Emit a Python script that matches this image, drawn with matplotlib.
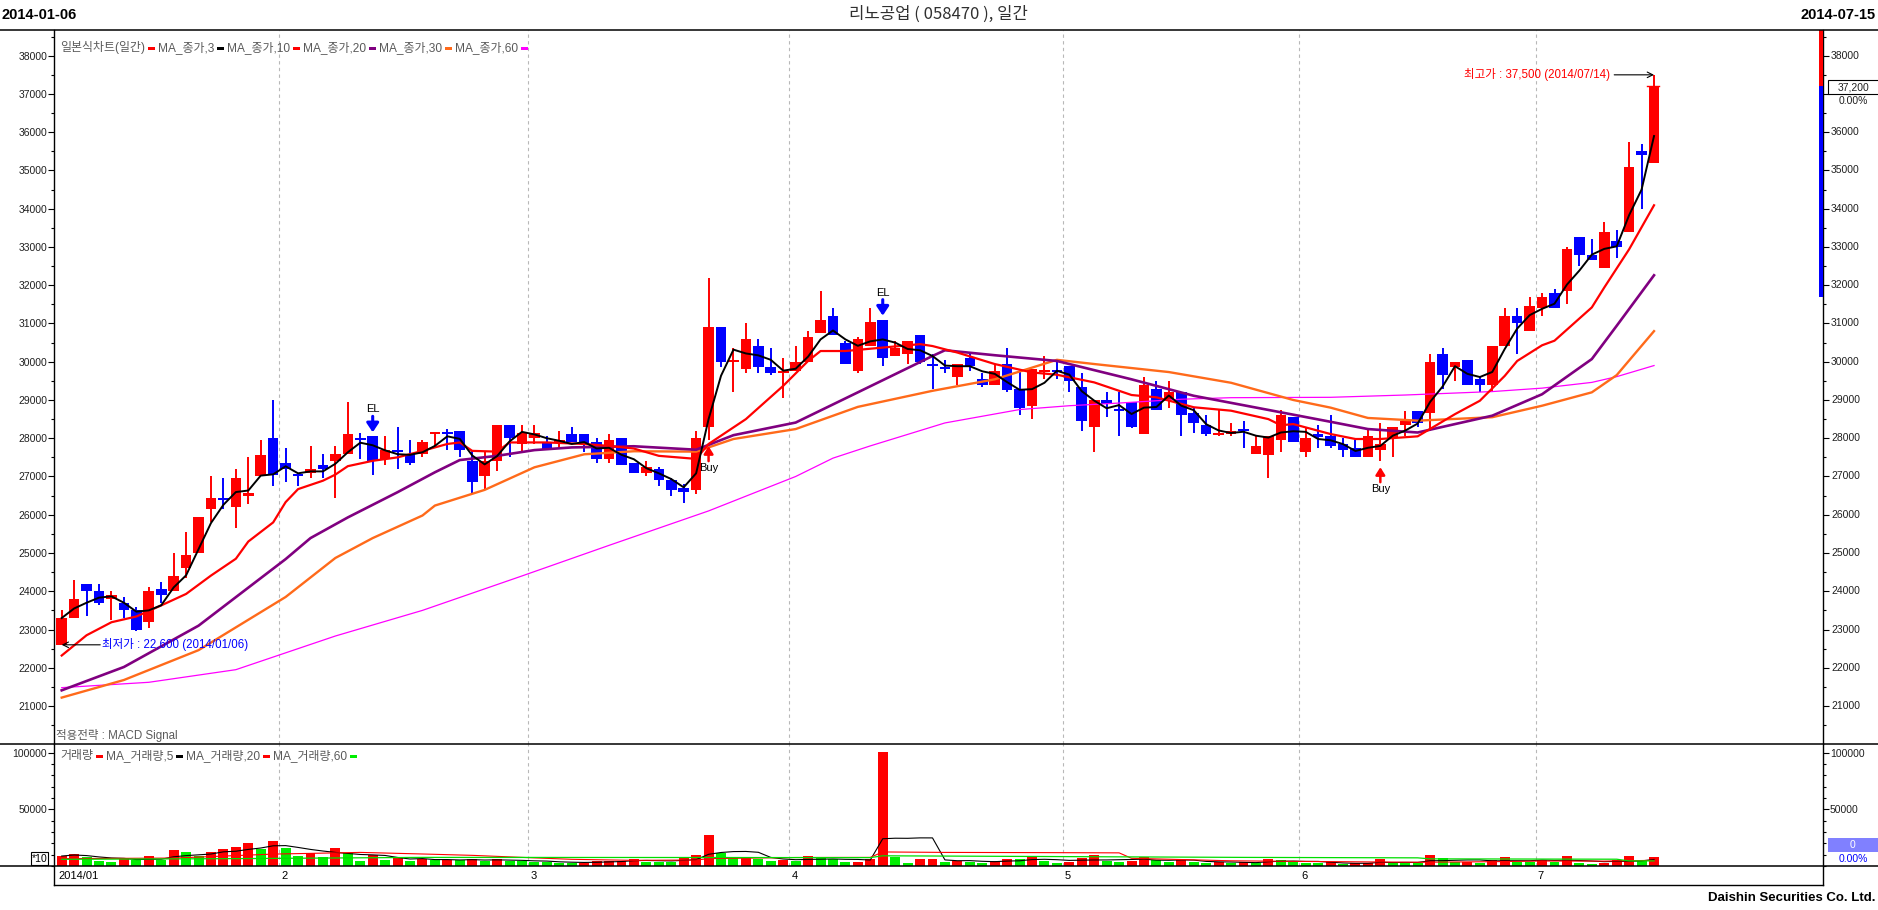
import matplotlib
matplotlib.use('Agg')
import matplotlib.pyplot as plt
import matplotlib.transforms as mtransforms
from matplotlib.lines import Line2D
from matplotlib.patches import Rectangle
from matplotlib.ticker import MultipleLocator, FixedLocator
import numpy as np
import pandas as pd

plt.rcParams['font.family'] = ['Liberation Sans', 'Noto Sans CJK KR', 'DejaVu Sans']

W, H = 1878, 910

# ---- daily candles, 2014-01-06 .. 2014-07-14 ----
opens = [22600, 23300, 24200, 24000, 23800, 23700, 23500, 23200, 24050, 24000,
         24600, 25000, 26150, 26400, 26200, 26500, 27000, 28000, 27350, 27050,
         27100, 27300, 27400, 27600, 28000, 28050, 27450, 27700, 27600, 27600,
         28100, 28150, 28200, 27400, 27000, 27400, 28350, 27850, 28000, 27900,
         27900, 28100, 28100, 27900, 27450, 28000, 27350, 27100, 27200, 26900,
         26700, 26650, 28300, 30900, 30000, 29800, 30400, 29850, 29700, 29750,
         30000, 30750, 31200, 30500, 29750, 30400, 31100, 30150, 30200, 30700,
         29950, 29850, 29600, 30100, 29550, 29400, 29950, 29300, 28850, 29720,
         29790, 29900, 29350, 28300, 29000, 28760, 28950, 28100, 29300, 29000,
         29200, 28650, 28350, 28080, 28100, 28250, 27600, 27550, 27950, 28550,
         27650, 28100, 28050, 27850, 27750, 27500, 27700, 28000, 28350, 28700,
         28650, 30200, 29850, 30050, 29550, 29400, 30400, 31200, 30800, 31400,
         31800, 31850, 33250, 32800, 32450, 33150, 33400, 35500, 35200]
highs = [23500, 24300, 24200, 24200, 24000, 23850, 23600, 24100, 24250, 25000,
         25550, 25950, 27000, 26950, 27200, 27500, 27950, 29000, 27750, 27100,
         27800, 27600, 27800, 28950, 28150, 28050, 28050, 28300, 27950, 27950,
         28150, 28250, 28200, 27700, 27650, 28350, 28350, 28350, 28350, 28050,
         28200, 28300, 28100, 28000, 28100, 28000, 27350, 27400, 27250, 26950,
         26800, 28200, 32200, 30900, 30350, 31000, 30600, 30350, 30100, 30400,
         30800, 31850, 31400, 30550, 30650, 31400, 31100, 30550, 30550, 30700,
         30200, 30050, 29950, 30200, 29700, 29950, 30350, 29750, 29800, 30150,
         30050, 29900, 29700, 29000, 29200, 29200, 28950, 29600, 29500, 29500,
         29200, 28800, 28600, 28750, 28400, 28450, 28050, 28050, 28750, 28550,
         28300, 28350, 28600, 28000, 27950, 28250, 28400, 28300, 28700, 28700,
         30200, 30350, 30000, 30050, 29600, 30400, 31400, 31400, 31700, 31800,
         31900, 33000, 33250, 33200, 33650, 33450, 35750, 35700, 37500]
lows = [22600, 23300, 23350, 23650, 23250, 23300, 22950, 23050, 23700, 24000,
        24350, 25000, 25800, 26150, 25650, 26280, 27000, 26750, 26850, 26750,
        26950, 26950, 26450, 27600, 27450, 27050, 27300, 27200, 27300, 27500,
        27800, 27700, 27500, 26550, 26650, 27150, 27500, 27650, 27850, 27700,
        27750, 27900, 27650, 27350, 27350, 27300, 27100, 27000, 26750, 26500,
        26300, 26550, 27950, 29850, 29200, 29700, 29700, 29650, 29050, 29750,
        30000, 30750, 30700, 29950, 29700, 30400, 29900, 30150, 29950, 29950,
        29300, 29700, 29400, 29750, 29350, 29400, 29200, 28600, 28500, 29550,
        29550, 29200, 28200, 27650, 28550, 28050, 28280, 28100, 28750, 28800,
        28050, 28150, 28050, 28050, 28050, 27750, 27600, 26950, 27650, 27900,
        27500, 27750, 27750, 27500, 27500, 27500, 27400, 27500, 28050, 28300,
        28200, 29300, 29500, 29400, 29200, 29200, 30400, 30200, 30800, 31200,
        31400, 31500, 32500, 32650, 32450, 32700, 33400, 34000, 35200]
closes = [23300, 23800, 24000, 23700, 23900, 23500, 23000, 24000, 23900, 24400,
          24950, 25950, 26450, 26380, 26950, 26570, 27550, 27050, 27200, 27000,
          27200, 27200, 27600, 28100, 27950, 27400, 27700, 27650, 27350, 27900,
          28150, 28100, 27700, 26850, 27400, 28350, 28000, 28150, 28150, 27700,
          27950, 27900, 27850, 27450, 27950, 27300, 27100, 27250, 26900, 26650,
          26600, 28000, 30900, 30000, 30050, 30600, 29850, 29700, 29750, 30000,
          30650, 31100, 30700, 29950, 30600, 31050, 30100, 30350, 30550, 30000,
          29900, 29800, 29950, 29900, 29400, 29750, 29250, 28800, 29800, 29750,
          29740, 29500, 28450, 29000, 28900, 28700, 28300, 29400, 28750, 29200,
          28600, 28400, 28100, 28110, 28200, 28200, 27800, 28050, 28600, 27900,
          28000, 28040, 27800, 27700, 27500, 28050, 27850, 28300, 28450, 28400,
          30000, 29650, 30000, 29400, 29400, 30400, 31200, 31000, 31450, 31700,
          31400, 32950, 32800, 32650, 33400, 33000, 35100, 35400, 37200]
volumes = [8800, 10600, 8200, 4400, 3500, 7100, 5300, 8800, 5300, 14100,
           12300, 8800, 12300, 15000, 16800, 20300, 15000, 22000, 15900, 8800,
           11500, 7900, 15900, 11200, 4400, 9700, 5300, 7100, 4400, 6200,
           5300, 5400, 5300, 5900, 4400, 6200, 4300, 4100, 3800, 3300,
           3000, 2600, 3000, 4600, 4700, 4800, 6500, 3800, 3700, 3600,
           7300, 9600, 27400, 11700, 7600, 7900, 5900, 4700, 4900, 4400,
           8800, 7200, 5800, 3300, 3900, 6200, 101000, 8200, 2900, 5800,
           6100, 3900, 4600, 3300, 2900, 4400, 6600, 5800, 8600, 4200,
           2700, 3500, 6800, 9400, 4300, 3700, 4600, 8200, 5100, 3600,
           5300, 3700, 2600, 3100, 3000, 3800, 2350, 6470, 5290, 3820,
           2350, 2300, 3230, 1760, 2350, 2450, 6470, 2350, 2300, 2250,
           9700, 7060, 3820, 3900, 2350, 5290, 7940, 3820, 3800, 5290,
           3820, 8820, 2350, 1760, 2350, 5290, 8820, 4410, 7940]

month_labels = ['2014/01', '2', '3', '4', '5', '6', '7']
month_starts = [0, 18, 38, 59, 81, 100, 119]

# moving averages (candle number, value)
ma10_at = [1, 3, 5, 7, 9, 11, 13, 15, 16, 18, 19, 20, 22, 23, 24, 26, 28, 30, 32, 33,
           34, 36, 37, 40, 43, 45, 47, 49, 52, 53, 56, 59, 61, 62, 64, 66, 68, 70, 71, 73,
           76, 79, 81, 84, 87, 89, 92, 95, 98, 99, 100, 103, 105, 107, 110, 113, 115, 117, 118, 120,
           121, 124, 125, 127, 129]
ma10_val = [22320, 22850, 23190, 23340, 23630, 23930, 24410, 24850, 25300, 25800, 26330, 26670, 26890, 27050, 27270, 27410, 27500, 27670, 27850, 27890,
            27670, 27650, 27890, 27890, 27850, 27800, 27730, 27540, 27460, 27850, 28500, 29370, 30020, 30280, 30280, 30340, 30400, 30460, 30410, 30240,
            29940, 29720, 29660, 29460, 29130, 29070, 28810, 28720, 28500, 28340, 28370, 28110, 27980, 27980, 28050, 28630, 28980, 29630, 30020, 30430,
            30550, 31420, 31940, 32940, 34090]
ma20_at = [1, 6, 12, 19, 21, 24, 28, 31, 33, 36, 39, 42, 47, 52, 55, 60, 65, 71, 72, 76,
           81, 87, 92, 98, 103, 106, 110, 116, 120, 124, 126, 129]
ma20_val = [21410, 22020, 23100, 24840, 25390, 25930, 26590, 27110, 27430, 27540, 27690, 27760, 27790, 27700, 28080, 28410, 29200, 30150, 30300, 30170,
            30020, 29540, 29110, 28740, 28430, 28240, 28150, 28590, 29150, 30070, 30940, 32260]
ma30_at = [1, 6, 12, 19, 23, 26, 30, 31, 35, 39, 43, 47, 52, 55, 60, 65, 71, 76, 81, 84,
           90, 95, 100, 103, 106, 110, 116, 120, 124, 126, 129]
ma30_val = [21220, 21680, 22460, 23850, 24870, 25390, 25980, 26240, 26650, 27240, 27580, 27660, 27650, 27980, 28240, 28820, 29240, 29540, 30050, 29940,
            29730, 29450, 29000, 28800, 28530, 28460, 28550, 28850, 29200, 29650, 30800]
ma60_at = [1, 8, 15, 23, 30, 38, 45, 53, 60, 63, 66, 72, 78, 82, 86, 91, 95, 103, 109, 116,
           120, 124, 126, 129]
ma60_val = [21480, 21620, 21950, 22830, 23500, 24400, 25200, 26100, 27000, 27480, 27800, 28400, 28750, 28850, 28920, 29020, 29060, 29070, 29130, 29220,
            29310, 29460, 29610, 29900]

vma20_at = [1, 10, 18, 25, 30, 34, 38, 42, 47, 52, 53, 60, 66, 67, 72, 80, 86, 87, 95, 100,
            110, 116, 120, 125, 129]
vma20_val = [6500, 7000, 10500, 12000, 10600, 9400, 7600, 5900, 5000, 5300, 6500, 7500, 7600, 12400, 12000, 11800, 11600, 6800, 4600, 4100,
             3300, 3800, 4400, 4300, 5000]
vma60_at = [1, 15, 30, 52, 66, 67, 96, 110, 111, 126, 127, 129]
vma60_val = [5900, 6500, 7600, 7500, 7400, 9000, 7600, 7200, 6300, 6000, 4500, 4500]

RED, BLUE, GREEN = '#ff0000', '#0000ff', '#00ee00'
GRAY_TXT = '#5a5a5a'
TICK_TXT = '#202020'

x = np.arange(len(closes))
o = np.array(opens); c = np.array(closes); hi = np.array(highs); lo = np.array(lows)
ma3 = pd.Series(closes).rolling(3, min_periods=1).mean()
vol = np.array(volumes)
vma5 = pd.Series(volumes).rolling(5, min_periods=1).mean()

fig = plt.figure(figsize=(W / 100, H / 100), dpi=100)
fig.patch.set_facecolor('white')

def fx(px):
    return px / W

def fy(py):
    return 1 - py / H

L_PX, R_PX = 54, 1823
X0, DX = 61.7, 12.44
xlim = ((L_PX - X0) / DX, (R_PX - X0) / DX)
PY_TOP, PY_BOT = 30, 744
ylim = (20007, 38672)
px_per_won = (PY_BOT - PY_TOP) / (ylim[1] - ylim[0])

ax = fig.add_axes([fx(L_PX), fy(PY_BOT), (R_PX - L_PX) / W, (PY_BOT - PY_TOP) / H])
axv = fig.add_axes([fx(L_PX), fy(866), (R_PX - L_PX) / W, (866 - 744) / H])
axs = fig.add_axes([fx(L_PX), fy(885), (R_PX - L_PX) / W, (885 - 866) / H])

for a in (ax, axv, axs):
    a.set_xlim(*xlim)
    a.set_facecolor('white')
    for s in a.spines.values():
        s.set_linewidth(1.0)
    a.spines['top'].set_visible(False)
    a.tick_params(axis='x', bottom=False, labelbottom=False)
for a in (ax, axv):
    a.spines['bottom'].set_visible(False)

ax.set_ylim(*ylim)
axv.set_ylim(0, 107680)
axs.set_yticks([])

# month separators
for s in month_starts[1:]:
    for a in (ax, axv):
        a.axvline(s - 0.5, color='#b8b8b8', lw=0.8, ls=(0, (3, 3)), zorder=0)

# candles
up = c >= o
ccol = np.where(up, RED, BLUE)
ax.vlines(x, lo, hi, colors=ccol, lw=1.4, zorder=2)
body_lo = np.minimum(o, c)
body_h = np.maximum(np.abs(c - o), 2 / px_per_won)
ax.bar(x, body_h, bottom=body_lo, width=0.85, color=ccol, linewidth=0, zorder=2)

# moving averages
ax.plot(np.array(ma60_at) - 1, ma60_val, color='#ff00ff', lw=0.9, zorder=3)
ax.plot(np.array(ma30_at) - 1, ma30_val, color='#ff6a1a', lw=1.7, zorder=3)
ax.plot(np.array(ma20_at) - 1, ma20_val, color='#800080', lw=1.9, zorder=3)
ax.plot(np.array(ma10_at) - 1, ma10_val, color=RED, lw=1.6, zorder=3)
ax.plot(x, ma3, color='black', lw=1.4, zorder=3)

# price ticks: left labels by matplotlib, right labels written by hand
# (the 37000 label on the right sits under the current-price box)
ax.yaxis.set_major_locator(MultipleLocator(1000))
ax.yaxis.set_minor_locator(MultipleLocator(500))
ax.tick_params(axis='y', which='both', left=True, right=True, labelleft=True, labelright=False,
               direction='out', width=0.8, labelsize=7.5, labelcolor=TICK_TXT, pad=1)
ax.tick_params(axis='y', which='major', length=4)
ax.tick_params(axis='y', which='minor', length=2.5)
bt = mtransforms.blended_transform_factory(ax.transAxes, ax.transData)
right_off = 8 / (R_PX - L_PX)
for v in range(21000, 39000, 1000):
    if v == 37000:
        continue
    ax.text(1 + right_off, v, str(v), transform=bt, fontsize=7.5, color=TICK_TXT,
            ha='left', va='center', clip_on=False)

# volume bars
vcol = [RED] + [RED if vol[i] > vol[i - 1] else GREEN for i in range(1, len(vol))]
axv.bar(x, vol, width=0.8, color=vcol, linewidth=0, zorder=2)
axv.plot(x, vma5, color='black', lw=0.8, zorder=3)
axv.plot(np.array(vma20_at) - 1, vma20_val, color=RED, lw=0.8, zorder=3)
axv.plot(np.array(vma60_at) - 1, vma60_val, color='#00dd00', lw=0.9, zorder=3)
axv.yaxis.set_major_locator(FixedLocator([50000, 100000]))
axv.yaxis.set_minor_locator(MultipleLocator(10000))
axv.tick_params(axis='y', which='both', left=True, right=True, labelleft=True, labelright=True,
                direction='out', width=0.8, labelsize=7.5, labelcolor=TICK_TXT, pad=1)
axv.tick_params(axis='y', which='major', length=4)
axv.tick_params(axis='y', which='minor', length=2.5)

# month labels under volume panel
strip_t = mtransforms.blended_transform_factory(axs.transData, axs.transAxes)
for s, lab in zip(month_starts, month_labels):
    axs.text(s - 0.5 + (0.15 if s else 0.25), 0.45, lab, fontsize=8, color='black',
             ha='left', va='center', transform=strip_t)

# full-width rules
for yy in (30, 744, 866):
    fig.add_artist(Line2D([0, 1], [fy(yy), fy(yy)], transform=fig.transFigure, color='black', lw=1.1))

# header / footer
narrow = ['Liberation Sans Narrow', 'Liberation Sans', 'DejaVu Sans']
fig.text(fx(2), fy(15), '2014-01-06', fontsize=10.5, fontweight='bold', family=narrow, va='center', ha='left')
fig.text(fx(1876), fy(15), '2014-07-15', fontsize=10.5, fontweight='bold', family=narrow, va='center', ha='right')
fig.text(fx(938), fy(14), '리노공업 ( 058470 ), 일간', fontsize=12, color='#303030',
         family=['Noto Sans CJK KR', 'DejaVu Sans'], va='center', ha='center')
fig.text(fx(1876), fy(898), 'Daishin Securities Co. Ltd.', fontsize=9.5, fontweight='bold', family=narrow,
         va='center', ha='right')

# legend rows
renderer = fig.canvas.get_renderer()

def legend_row(y_px, items, x0=60):
    xx = x0
    for label, col in items:
        t = fig.text(fx(xx), fy(y_px), label, fontsize=8.6, color=GRAY_TXT, va='center', ha='left')
        bb = t.get_window_extent(renderer)
        xx = bb.x1 + 3
        fig.add_artist(Rectangle((fx(xx), fy(y_px + 1.5)), 7 / W, 3 / H, transform=fig.transFigure,
                                 color=col, lw=0))
        xx += 10

legend_row(48, [('일본식차트(일간)', RED), ('MA_종가,3', 'black'), ('MA_종가,10', RED),
                ('MA_종가,20', '#800080'), ('MA_종가,30', '#ff6a1a'), ('MA_종가,60', '#ff00ff')])
legend_row(756, [('거래량', RED), ('MA_거래량,5', 'black'), ('MA_거래량,20', RED), ('MA_거래량,60', GREEN)])
fig.text(fx(56), fy(735), '적용전략 : MACD Signal', fontsize=8.3, color=GRAY_TXT, va='center', ha='left')

# lowest / highest annotations
i_lo = int(np.argmin(lo)); i_hi = int(np.argmax(hi))
ax.annotate('', xy=(i_lo, lo[i_lo]), xytext=(i_lo + 3.1, lo[i_lo]),
            arrowprops=dict(arrowstyle='->', color='black', lw=0.8, shrinkA=0, shrinkB=0))
ax.text(i_lo + 3.25, lo[i_lo], '최저가 : 22,600 (2014/01/06)', color=BLUE, fontsize=8.3, va='center', ha='left', zorder=5)
ax.annotate('', xy=(i_hi, hi[i_hi]), xytext=(i_hi - 3.2, hi[i_hi]),
            arrowprops=dict(arrowstyle='->', color='black', lw=0.8, shrinkA=0, shrinkB=0))
ax.text(i_hi - 3.55, hi[i_hi], '최고가 : 37,500 (2014/07/14)', color=RED, fontsize=8.3, va='center', ha='right', zorder=5)
ax.plot([len(c) - 1.55, len(c) - 0.6], [c[-1], c[-1]], color=RED, lw=1.0, zorder=3)

# signals
for i in (25, 66):
    tip = hi[i] + 4 / px_per_won
    ax.annotate('', xy=(i, tip), xytext=(i, tip + 16 / px_per_won),
                arrowprops=dict(arrowstyle='-|>,head_width=0.3,head_length=0.45', color=BLUE, lw=2.2,
                                shrinkA=0, shrinkB=0, mutation_scale=12), zorder=5)
    ax.text(i, hi[i] + 27 / px_per_won, 'EL', fontsize=8, ha='center', va='center', color='black')
for i in (52, 106):
    tip = lo[i] - 6 / px_per_won
    ax.annotate('', xy=(i, tip), xytext=(i, tip - 15 / px_per_won),
                arrowprops=dict(arrowstyle='-|>,head_width=0.25,head_length=0.4', color=RED, lw=1.8,
                                shrinkA=0, shrinkB=0, mutation_scale=11), zorder=5)
    ax.text(i, lo[i] - 28 / px_per_won, 'Buy', fontsize=8, ha='center', va='center', color='black')

# right-side price marker bar and boxes
bw = 4 / (R_PX - L_PX)
ax.add_patch(Rectangle((1 - bw, c[-1]), bw, ylim[1] - c[-1], transform=bt, color=RED, lw=0, clip_on=False, zorder=4))
ax.add_patch(Rectangle((1 - bw, 31700), bw, c[-1] - 31700, transform=bt, color=BLUE, lw=0, clip_on=False, zorder=4))

fig.add_artist(Rectangle((fx(1828), fy(94)), 52 / W, 14 / H, transform=fig.transFigure,
                         facecolor='white', edgecolor='black', lw=0.8))
fig.text(fx(1854), fy(87), f'{c[-1]:,.0f}', fontsize=7.5, ha='center', va='center', color=TICK_TXT)
fig.text(fx(1853), fy(101), '0.00%', fontsize=7.5, ha='center', va='center', color=TICK_TXT)

fig.add_artist(Rectangle((fx(1828), fy(852)), 52 / W, 14 / H, transform=fig.transFigure,
                         facecolor='#8080ff', edgecolor='none'))
fig.text(fx(1853), fy(845), '0', fontsize=7.5, ha='center', va='center', color='white')
fig.text(fx(1853), fy(859), '0.00%', fontsize=7.5, ha='center', va='center', color=BLUE)

fig.add_artist(Rectangle((fx(31), fy(865)), 17 / W, 13 / H, transform=fig.transFigure,
                         facecolor='white', edgecolor='black', lw=0.8))
fig.text(fx(39.5), fy(858.5), '*10', fontsize=7.5, ha='center', va='center', color='black')

fig.savefig('out.png', dpi=100, facecolor='white')
